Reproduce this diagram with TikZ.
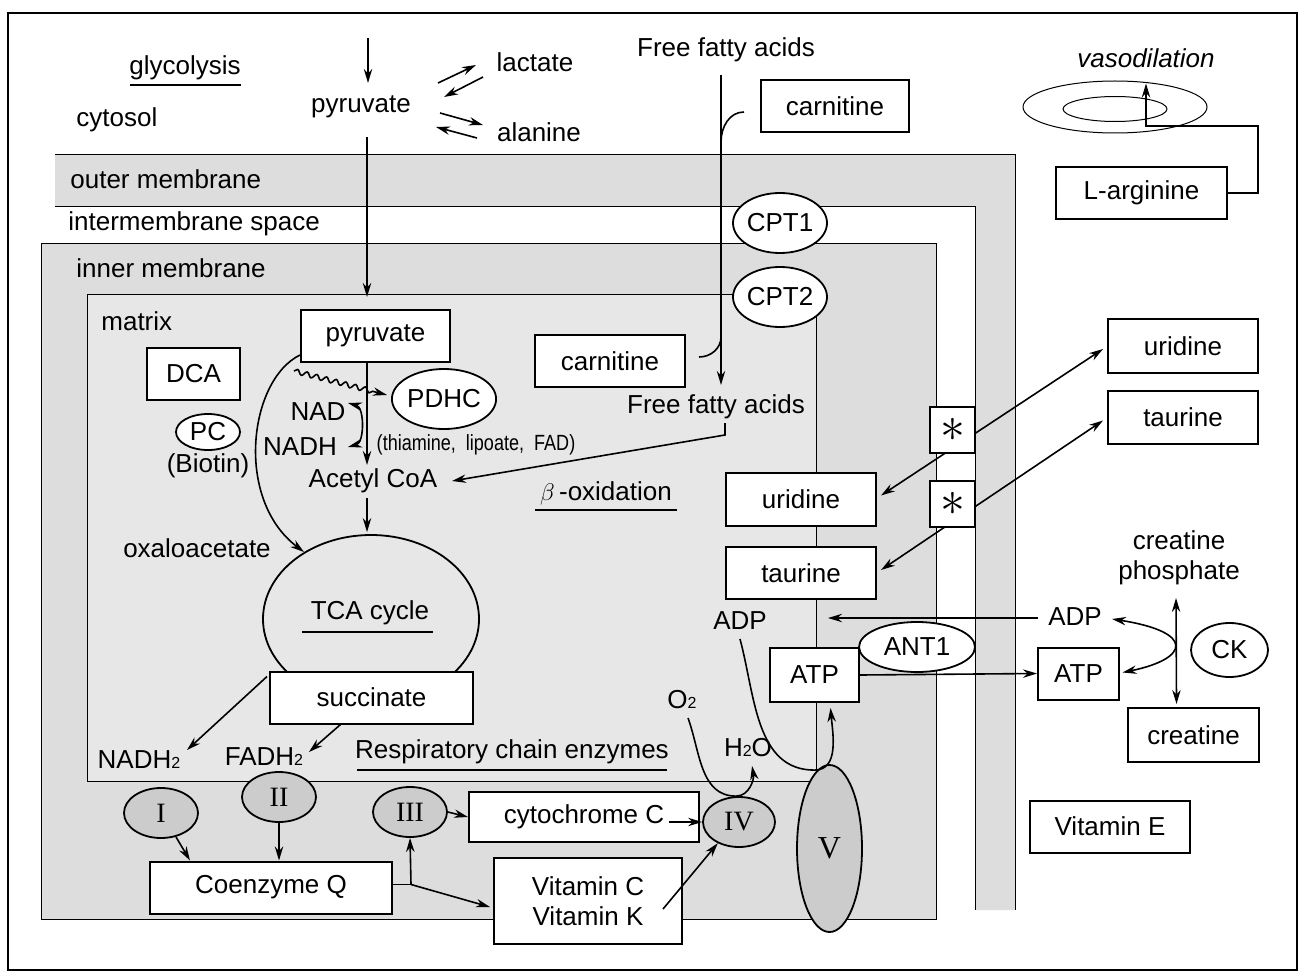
\documentclass[tikz,border=0pt]{standalone}
\usepackage{fontspec}
\setsansfont{Liberation Sans}
\newfontfamily\romfont{Liberation Serif}
\usetikzlibrary{arrows.meta,shapes.geometric,calc,decorations.pathmorphing}
\newcommand{\subtwo}{{\fontsize{8}{8}\selectfont 2}}

\begin{document}
\begin{tikzpicture}[x=0.5pt,y=0.5pt,>={Stealth[length=7pt,width=4.2pt]},every node/.style={font=\sffamily\fontsize{13}{15}\selectfont,inner sep=2pt},box/.style={draw,line width=1pt,fill=white,minimum height=26pt},oval/.style={draw,ellipse,line width=0.9pt,fill=white,inner sep=0pt},cplx/.style={draw,ellipse,line width=0.9pt,fill=gray!40,inner sep=0pt,font=\romfont\fontsize{14}{16}\selectfont},arr/.style={->,line width=0.8pt},memb/.style={line width=0.5pt},uline/.style={line width=0.6pt}]
\useasboundingbox (0,0) rectangle (1299,-973);
\draw[line width=0.6pt] (8,-13) rectangle (1297,-970);
\fill[gray!27] (55,-155) -- (1015,-155) -- (1015,-910) -- (975,-910) -- (975,-207) -- (55,-207) -- cycle;
\draw[memb] (55,-155) -- (1015,-155) -- (1015,-910);\draw[memb] (55,-207) -- (975,-207) -- (975,-910);
\draw[memb,fill=gray!27] (41,-243) rectangle (936,-919);
\draw[memb,fill=gray!19] (87,-294) rectangle (816,-781);
\node[anchor=west] (cyto) at (72,-120) {cytosol};
\node (gly) at (185,-68) {glycolysis};
\node[anchor=west] (outm) at (66,-179) {outer membrane};
\node[anchor=west] (imsp) at (64,-224) {intermembrane space};
\node[anchor=west] (inm) at (72,-268) {inner membrane};
\node[anchor=west] (mtx) at (97,-321) {matrix};
\node (pyrtop) at (361,-107) {pyruvate};\node (lact) at (535,-62) {lactate};\node (alan) at (539,-132) {alanine};
\node (fa1) at (726,-50) {Free fatty acids};
\node[box,minimum width=74pt] (carn1) at (835,-106) {carnitine};
\node[font=\sffamily\itshape\fontsize{13}{15}\selectfont] (vaso) at (1146,-58) {vasodilation};
\node[draw,ellipse,line width=0.5pt,minimum width=92pt,minimum height=26pt,inner sep=0pt] (vout) at (1115,-107) {};
\node[draw,ellipse,line width=0.5pt,minimum width=52pt,minimum height=12.5pt,inner sep=0pt] (vin) at (1115,-109) {};
\node[box,minimum width=85.5pt] (larg) at (1141.5,-193) {L-arginine};
\node[oval,minimum width=47pt,minimum height=30pt] (cpt1) at (780,-223) {CPT1};
\node[oval,minimum width=47pt,minimum height=30pt] (cpt2) at (780,-297) {CPT2};
\node[box,minimum width=74.5pt] (pyrbox) at (375.5,-336) {pyruvate};
\node[box,minimum width=46.5pt] (dca) at (193.5,-374) {DCA};
\node[oval,minimum width=32pt,minimum height=18pt] (pc) at (208,-432) {PC};
\node (biot) at (208,-466) {(Biotin)};
\node[oval,minimum width=52pt,minimum height=30pt] (pdhc) at (444,-399) {PDHC};
\node[font=\sffamily\fontsize{11}{13}\selectfont] (cofac) at (476,-445) {\scalebox{0.82}[1]{(thiamine,\ \ lipoate,\ \ FAD)}};
\node (nad) at (318,-412) {NAD};\node (nadh) at (300,-447) {NADH};
\node (acoa) at (373,-481) {Acetyl CoA};
\node[box,minimum width=75pt] (carn2) at (610,-361) {carnitine};
\node (fa2) at (716,-407) {Free fatty acids};
\node (boxid) at (606,-493) {$\beta$\,-oxidation};
\node (oxa) at (197,-548) {oxaloacetate};
\node[draw,ellipse,line width=0.9pt,minimum width=108pt,minimum height=84pt,inner sep=0pt] (tca) at (371,-619) {};
\node (tcal) at (370,-613) {TCA cycle};
\node[box,minimum width=101.5pt] (succ) at (371.5,-697.5) {succinate};
\node (nadh2) at (139,-760) {NADH\subtwo};\node (fadh2) at (264,-757) {FADH\subtwo};
\node (resp) at (512,-752) {Respiratory chain enzymes};
\node[cplx,minimum width=37pt,minimum height=25pt] (c1) at (161,-813) {I};
\node[cplx,minimum width=37pt,minimum height=25pt] (c2) at (279,-797) {II};
\node[cplx,minimum width=37pt,minimum height=25pt] (c3) at (410,-812) {III};
\node[cplx,minimum width=36pt,minimum height=25pt] (c4) at (739,-822) {IV};
\node[cplx,minimum width=32.5pt,minimum height=83.5pt,font=\romfont\fontsize{16}{18}\selectfont] (c5) at (829.5,-848.5) {V};
\node[box,minimum width=115pt,minimum height=25pt] (cytc) at (584,-817) {cytochrome C};
\node[box,minimum width=121pt] (coq) at (271,-887.5) {Coenzyme Q};
\node[box,minimum width=94pt,minimum height=43pt,align=center] (vitck) at (588,-901) {Vitamin C\\Vitamin K};
\node[box,minimum width=75pt,minimum height=26.5pt] (urin) at (801,-499.5) {uridine};
\node[box,minimum width=75pt] (taurin) at (801,-573) {taurine};
\node[box,minimum width=75pt,minimum height=27pt] (urout) at (1183,-346) {uridine};
\node[box,minimum width=75pt,minimum height=26.5pt] (taurout) at (1183,-417.5) {taurine};
\node[oval,minimum width=58pt,minimum height=25pt] (ant1) at (917,-647) {ANT1};
\node[box,minimum width=44.5pt,minimum height=27pt] (atpin) at (814.5,-675) {ATP};
\node (adpin) at (740,-621) {ADP};\node (adpout) at (1075,-617) {ADP};
\node[box,minimum width=40.5pt] (atpout) at (1078.5,-673.5) {ATP};
\node[align=center] (crp) at (1179,-558) {creatine\\phosphate};
\node[oval,minimum width=38.5pt,minimum height=27pt] (ck) at (1229.5,-650) {CK};
\node[box,minimum width=65.5pt,minimum height=27pt] (creat) at (1193.5,-735) {creatine};
\node[box,minimum width=80pt] (vite) at (1110,-826.5) {Vitamin E};
\node (o2) at (682,-700) {O\subtwo};\node (h2o) at (748,-748) {H\subtwo O};
\draw[uline] ($(gly)+(-55,-17)$) -- ($(gly)+(56,-17)$);\draw[uline] ($(tcal)+(-68,-19)$) -- ($(tcal)+(63,-19)$);
\draw[uline] ($(resp)+(-155,-18)$) -- ($(resp)+(155,-18)$);\draw[uline] ($(boxid)+(-71,-17)$) -- ($(boxid)+(71,-17)$);
\coordinate (glyc) at (368,-38);
\draw[arr] (glyc) -- ($(pyrtop)+(7,24)$);
\draw[arr] ($(pyrtop)+(77,24)$) -- ($(lact)+(-59,-3)$);\draw[arr] ($(lact)+(-52,-15)$) -- ($(pyrtop)+(83,10)$);
\draw[arr] ($(pyrtop)+(79,-6)$) -- ($(alan)+(-56,7)$);\draw[arr] ($(alan)+(-62,-6)$) -- ($(pyrtop)+(75,-20)$);
\draw[arr] ($(pyrtop)+(6,-30)$) -- ($(pyrbox.north)+(-8.5,12)$);
\draw[arr] ($(fa1)+(-5,-25)$) -- ($(fa2)+(5,22)$);
\draw[line width=0.8pt] ($(carn1.west)+(-16,-6)$) to[out=180,in=90] ($(fa1)+(-5,-92)$);
\draw[line width=0.8pt] ($(carn2.east)+(13,4)$) to[out=0,in=-90] ($(fa2)+(5,70)$);
\draw[arr] ($(pyrbox.south)+(-8.5,0)$) -- ($(acoa)+(-6,16)$);
\draw[arr,decorate,decoration={snake,amplitude=1.2pt,segment length=5pt,post length=6pt}] ($(pyrbox.south west)+(-6,-8)$) -- ($(pdhc.west)+(-4,4)$);
\draw[<->,line width=0.8pt] ($(nad)+(30,9)$) to[out=-15,in=15] ($(nadh)+(48,0)$);
\draw[arr] ($(pyrbox.west)+(0,-19)$) .. controls ($(pyrbox.west)+(-51,-44)$) and ($(tca.135)+(-70,53)$) .. (tca.135);
\draw[arr] ($(acoa)+(-6,-17)$) -- ($(tca.north)+(-4,2)$);
\draw[arr] ($(fa2)+(9,-16)$) -- ($(fa2)+(9,-28)$) -- ($(acoa)+(79,0)$);
\draw[arr] ($(succ.north west)+(-2,-6)$) -- ($(nadh2)+(48,10)$);
\draw[arr] ($(succ.south)+(-31,0)$) -- ($(fadh2)+(45,5)$);
\draw[arr] ($(c1)+(15,-24)$) -- ($(coq.north west)+(41,0)$);
\draw[arr] (c2.south) -- (c2.south |- coq.north);
\coordinate (br) at ($(coq.east)+(18,3)$);
\draw[line width=0.8pt] ($(coq.east)+(0,3)$) -- (br);\draw[arr] (br) -- (c3.south);\draw[arr] (br) -- ($(vitck.west)+(-3,-6)$);
\draw[arr] (c3.east) -- (cytc.west);
\draw[arr] ($(cytc.east)+(-31,-5)$) -- (c4.west);
\draw[arr] ($(vitck.east)+(-20,-8)$) -- (c4.225);
\draw[arr] ($(o2)+(6,-18)$) to[out=-70,in=180] ($(c4.north)+(-3,0)$) to[out=0,in=-80] ($(h2o)+(4,-18)$);
\draw[arr] ($(adpin)+(0,-18)$) to[out=-75,in=180] ($(c5.north)+(-15,-6)$) to[out=0,in=-85] ($(atpin.south)+(16,-5)$);
\draw[arr] ($(adpout)+(-37,-1)$) -- ($(adpout)+(-247,-1)$);
\draw[arr] (atpin.east) -- (atpout.west);
\draw[<->,line width=0.8pt] ($(adpout)+(37,-2)$) .. controls ($(adpout)+(120,-15)$) and ($(atpout)+(111.5,15)$) .. ($(atpout)+(44,1)$);
\draw[<->,line width=0.8pt] ($(crp)+(-3,-40)$) -- ($(creat.north)+(-17,3)$);
\draw[arr] (larg.east) -- ++(30,0) -- ++(0,67) -| ($(vout.north)+(31,-3)$);
\draw[<->,line width=0.8pt] ($(urin.east)+(4,4)$) -- ($(urout.west)+(-4,-3)$);
\draw[<->,line width=0.8pt] ($(taurin.east)+(4,3)$) -- ($(taurout.west)+(-4,-3)$);
\node[box,line width=0.6pt,minimum width=22.5pt,minimum height=23pt,inner sep=0pt] (ast1) at (952.5,-430) {\fontsize{24}{24}\selectfont$\ast$};
\node[box,line width=0.6pt,minimum width=22.5pt,minimum height=23pt,inner sep=0pt] (ast2) at (952.5,-504) {\fontsize{24}{24}\selectfont$\ast$};
\end{tikzpicture}
\end{document}
